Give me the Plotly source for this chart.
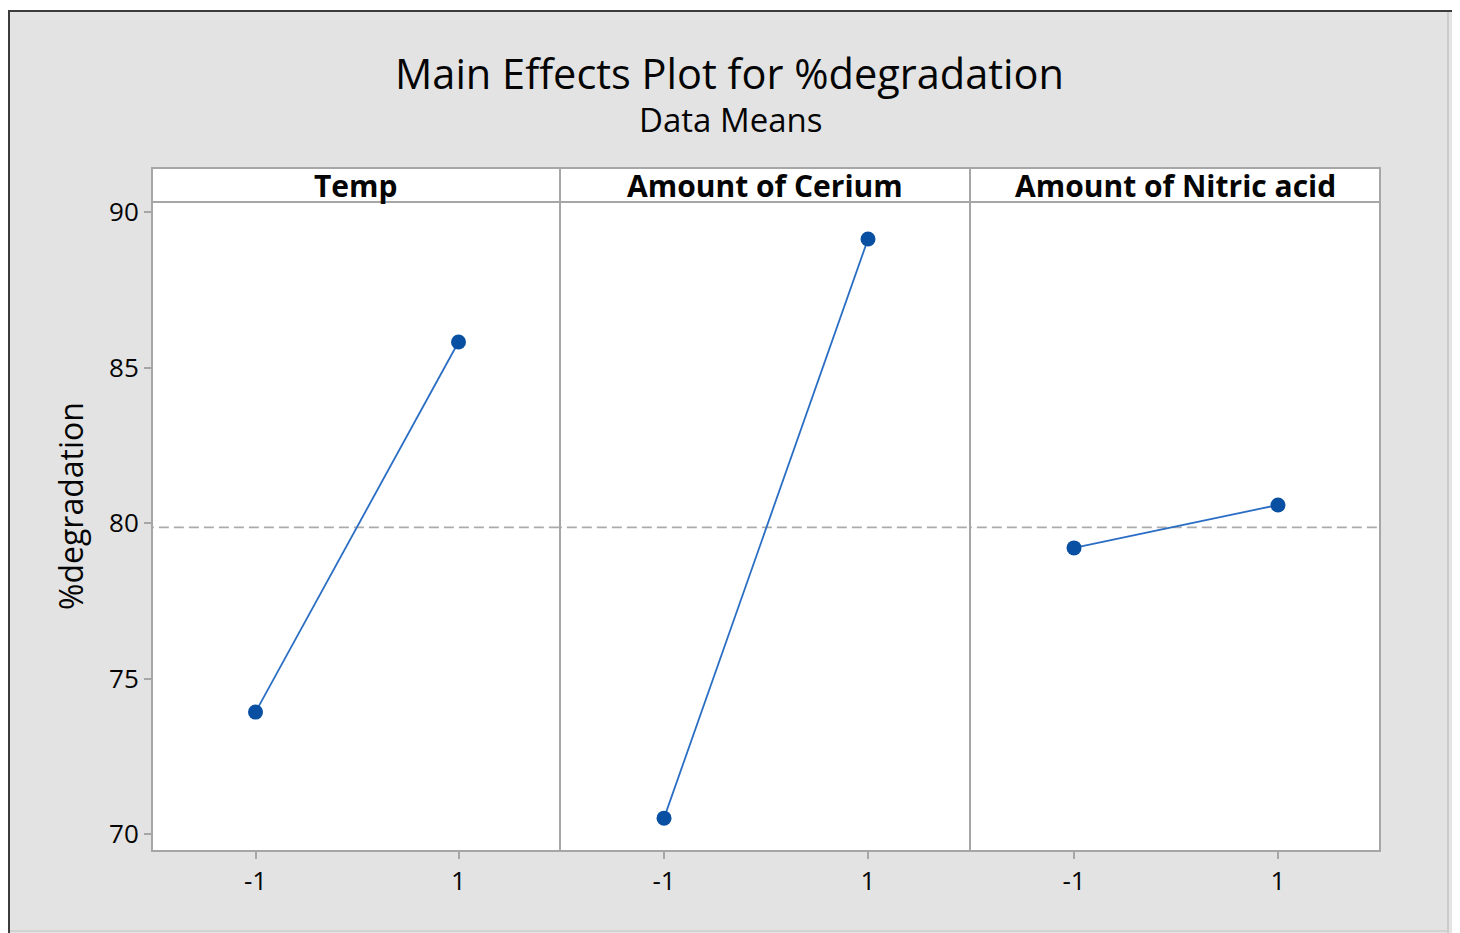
import plotly.graph_objects as go

# ---- data ----
factors = ["Temp", "Amount of Cerium", "Amount of Nitric acid"]
levels = ["-1", "1"]
level_values = [-1, 1]
temp_means = [73.92, 85.82]
cerium_means = [70.51, 89.13]
nitric_means = [79.20, 80.58]
y_ticks = [70, 75, 80, 85, 90]

series = [temp_means, cerium_means, nitric_means]
all_vals = temp_means + cerium_means + nitric_means
grand_mean = sum(all_vals) / len(all_vals)

OFF = 8  # browser body margin
W, H = 1460 - OFF, 933 - OFF
L, R, T, B = 152, 1380, 202, 851   # plot area in page pixels
PW, PH = R - L, B - T

def px(x):
    return (x - L) / PW

def py(y):
    return (B - y) / PH

bounds = [152, 560, 970, 1380]
domains = [[px(bounds[i]), px(bounds[i + 1])] for i in range(3)]

FONT = "Open Sans"
TXT = "#050505"
frame = "#a6a6a6"
line_col = "#2a6ec4"
marker_col = "#0a50a2"

fig = go.Figure()
for i, vals in enumerate(series):
    xa = "x" if i == 0 else f"x{i+1}"
    ya = "y" if i == 0 else f"y{i+1}"
    fig.add_trace(go.Scatter(
        x=[-2.1, 2.1], y=[grand_mean, grand_mean], mode="lines",
        line=dict(color="#ababab", width=1.8, dash="10px,5px"),
        xaxis=xa, yaxis=ya, showlegend=False, hoverinfo="skip"))
    fig.add_trace(go.Scatter(
        x=level_values, y=vals, mode="lines+markers",
        line=dict(color=line_col, width=1.8),
        marker=dict(color=marker_col, size=15),
        xaxis=xa, yaxis=ya, showlegend=False, name=factors[i]))

yr = [70 - (B - 834) / 31.1, 90 + (212 - T) / 31.1]
axis_common = dict(showgrid=False, zeroline=False, showline=False)
layout = dict(
    width=W, height=H,
    margin=dict(l=L - OFF, r=W - (R - OFF), t=T - OFF, b=H - (B - OFF), pad=0),
    paper_bgcolor="#e3e3e3", plot_bgcolor="white",
    font=dict(family=FONT, color=TXT),
)
for i in range(3):
    sx = "" if i == 0 else str(i + 1)
    layout["xaxis" + sx] = dict(
        domain=domains[i], range=[-2.02, 2.0], tickvals=level_values, ticktext=levels,
        ticks="outside", ticklen=7, tickcolor=frame, tickwidth=2,
        tickfont=dict(size=26, family=FONT, color=TXT),
        anchor="y" + sx, **axis_common)
    layout["yaxis" + sx] = dict(
        domain=[0, 1], range=yr, tickvals=y_ticks,
        ticks="outside" if i == 0 else "", ticklen=7, tickcolor=frame, tickwidth=2,
        showticklabels=(i == 0),
        tickfont=dict(size=26, family=FONT, color=TXT),
        anchor="x" + sx, **axis_common)
fig.update_layout(**layout)

shapes = []
annotations = []
# strips
st_top = py(168)
for i in range(3):
    shapes.append(dict(type="rect", xref="paper", yref="paper",
                       x0=domains[i][0], x1=domains[i][1], y0=1, y1=st_top,
                       fillcolor="white", line=dict(color=frame, width=2)))
    annotations.append(dict(xref="paper", yref="paper",
                            x=(domains[i][0] + domains[i][1]) / 2, y=py(185),
                            text="<b>" + factors[i] + "</b>", showarrow=False,
                            xanchor="center", yanchor="middle",
                            font=dict(size=30, family=FONT, color=TXT)))
# panel frame and dividers
shapes.append(dict(type="rect", xref="paper", yref="paper", x0=0, x1=1, y0=0, y1=1,
                   fillcolor="rgba(0,0,0,0)", line=dict(color=frame, width=2)))
for b in bounds[1:-1]:
    shapes.append(dict(type="line", xref="paper", yref="paper", x0=px(b), x1=px(b),
                       y0=0, y1=1, line=dict(color=frame, width=2)))
# white strip above border, outer frame
shapes.append(dict(type="rect", xref="paper", yref="paper", x0=px(0), x1=px(1470),
                   y0=py(10), y1=py(-5), fillcolor="white", line=dict(width=0), layer="below"))
shapes.append(dict(type="rect", xref="paper", yref="paper", x0=px(1454), x1=px(1470),
                   y0=py(H + 20), y1=py(-5), fillcolor="white", line=dict(width=0), layer="below"))
shapes.append(dict(type="line", xref="paper", yref="paper", x0=px(1448), x1=px(1448),
                   y0=py(12), y1=py(940), line=dict(color="#c4c4c4", width=1.5)))
shapes.append(dict(type="line", xref="paper", yref="paper", x0=px(9), x1=px(1448),
                   y0=py(931), y1=py(931), line=dict(color="#cccccc", width=1.5)))
shapes.append(dict(type="rect", xref="paper", yref="paper", x0=px(9), x1=px(1453),
                   y0=py(950), y1=py(11), fillcolor="rgba(0,0,0,0)",
                   line=dict(color="#3c3c3c", width=2)))

annotations.append(dict(xref="paper", yref="paper", x=px(729), y=py(73),
                        text="Main Effects Plot for %degradation", showarrow=False,
                        xanchor="center", yanchor="middle",
                        font=dict(size=41.5, family=FONT, color=TXT)))
annotations.append(dict(xref="paper", yref="paper", x=px(730), y=py(120),
                        text="Data Means", showarrow=False,
                        xanchor="center", yanchor="middle",
                        font=dict(size=33, family=FONT, color=TXT)))
annotations.append(dict(xref="paper", yref="paper", x=px(70), y=py(506),
                        text="%degradation", showarrow=False, textangle=-90,
                        xanchor="center", yanchor="middle",
                        font=dict(size=32, family=FONT, color=TXT)))
fig.update_layout(shapes=shapes, annotations=annotations)

fig.write_html("out.html")
